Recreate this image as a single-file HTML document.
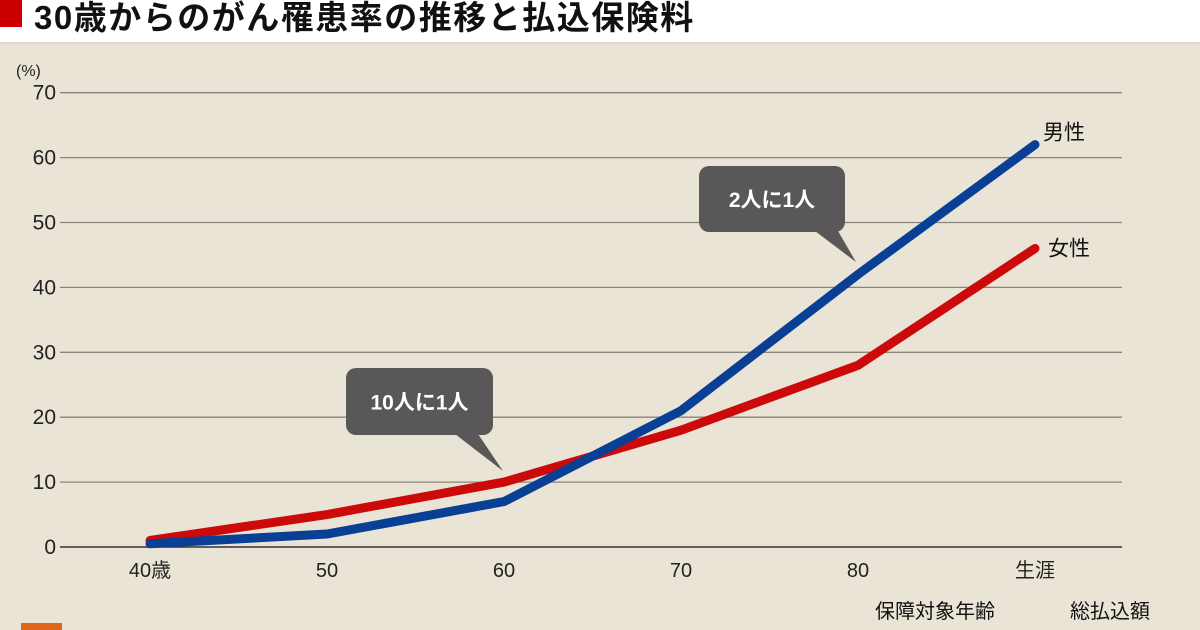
<!DOCTYPE html>
<html><head><meta charset="utf-8">
<style>
html,body{margin:0;padding:0}
body{width:1200px;height:630px;overflow:hidden;background:#e9e4d6;font-family:"Liberation Sans","Noto Sans CJK JP",sans-serif;position:relative}
#titlebar{position:absolute;left:0;top:0;width:1200px;height:42px;background:#fff;border-bottom:2px solid #ddd8c8}
#redsq{position:absolute;left:0;top:0;width:22px;height:27px;background:#cc0000}
#title{position:absolute;left:34px;top:-9px;font-size:33px;font-weight:bold;color:#111;white-space:nowrap;letter-spacing:1.5px}
svg{position:absolute;left:0;top:0}
</style></head><body>
<div id="titlebar">
<div id="redsq"></div>
<div id="title">30歳からのがん罹患率の推移と払込保険料</div>
</div>
<svg id="chart" width="1200" height="630"></svg>
<script>
const categories=["40歳","50","60","70","80","生涯"];
const maleValues=[0.5,2,7,21,42,62];
const femaleValues=[1,5,10,18,28,46];
const yTicks=[0,10,20,30,40,50,60,70];
const NS="http://www.w3.org/2000/svg";
const svg=document.getElementById('chart');
function x(i){return 150+i*177;}
function y(v){return 547-v*6.49;}
function mk(tag,attrs,parent){const e=document.createElementNS(NS,tag);for(const k in attrs)e.setAttribute(k,attrs[k]);(parent||svg).appendChild(e);return e;}
yTicks.forEach(t=>{
 const l=mk('line',{x1:60,x2:1122,y1:y(t),y2:y(t),stroke:t===0?'#333':'#8a857a','stroke-width':t===0?1.5:1.3});
 
 
 const tx=mk('text',{x:56,y:y(t)+7,'text-anchor':'end','font-size':21,fill:'#222'});
 tx.textContent=t;
 
 
});
const unit=mk('text',{x:16,y:76,'font-size':16,fill:'#222'});unit.textContent='(%)';


categories.forEach((c,i)=>{
 const tx=mk('text',{x:x(i),y:577,'text-anchor':'middle','font-size':20,fill:'#222'});
 tx.textContent=c;
 
 
});
function series(vals,color,name){
 const p=mk('polyline',{points:vals.map((v,i)=>x(i)+','+y(v)).join(' '),fill:'none',stroke:color,'stroke-width':9,'stroke-linecap':'round','stroke-linejoin':'miter'});
 
 
}
series(femaleValues,'#cc0a0a','female-line');
series(maleValues,'#0a3f96','male-line');
const lm=mk('text',{x:x(5)+8,y:y(maleValues[5])-5,'font-size':21,fill:'#111'});lm.textContent='男性';


const lf=mk('text',{x:x(5)+13,y:y(femaleValues[5])+7,'font-size':21,fill:'#111'});lf.textContent='女性';


function callout(bx,by,w,h,px1,px2,tx,ty,label,name){
 const g=mk('g',{});
 
 
 mk('rect',{x:bx,y:by,width:w,height:h,rx:10,fill:'#595757'},g);
 mk('polygon',{points:`${px1},${by+h-1} ${px2},${by+h-1} ${tx},${ty}`,fill:'#595757'},g);
 const t=mk('text',{x:bx+w/2,y:by+h/2+8,'text-anchor':'middle','font-size':21,'font-weight':'bold',fill:'#fff'},g);
 t.textContent=label;
}
callout(346,368,147,67,455,478,503,471,'10人に1人','callout-10');
callout(699,166,146,66,815,838,856,262,'2人に1人','callout-2');
const f1=mk('text',{x:875,y:618,'font-size':20,fill:'#111'});f1.textContent='保障対象年齢';


const f2=mk('text',{x:1070,y:618,'font-size':20,fill:'#111'});f2.textContent='総払込額';


const o=mk('rect',{x:21,y:623,width:41,height:10,fill:'#e0661a'});


</script>
</body></html>
